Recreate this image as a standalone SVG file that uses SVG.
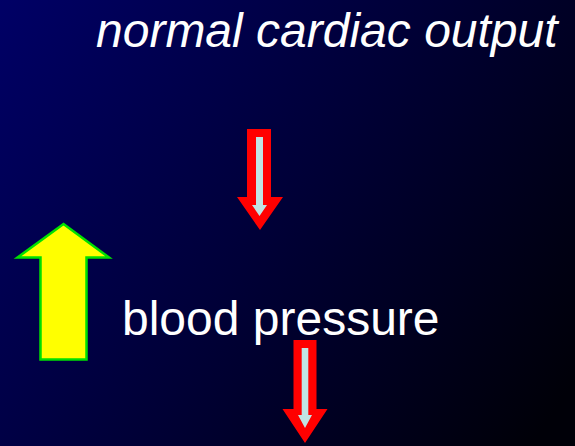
<svg xmlns="http://www.w3.org/2000/svg" width="575" height="446" viewBox="0 0 575 446">
  <defs>
    <linearGradient id="bg" gradientUnits="userSpaceOnUse" x1="0" y1="0" x2="575" y2="380">
      <stop offset="0" stop-color="#000066"/>
      <stop offset="0.5" stop-color="#000038"/>
      <stop offset="1" stop-color="#000008"/>
    </linearGradient>
    <style>
      .label { fill: #ffffff; font-family: "Liberation Sans", Arial, sans-serif; font-size: 48px; }
      .italic { font-style: italic; }
      .red { fill: #ff0000; }
      .core { fill: #c0e4e4; }
      .up { fill: #ffff00; stroke: #00e000; stroke-width: 2.5; stroke-linejoin: miter; }
    </style>
  </defs>
  <rect x="0" y="0" width="575" height="446" fill="url(#bg)"/>
  <g id="title">
    <text class="label italic" x="96" y="47">normal cardiac output</text>
  </g>
  <g id="blood-pressure">
    <text class="label" x="122" y="335">blood pressure</text>
  </g>
  <g id="up-arrow">
    <polygon class="up" points="63.5,224 109,257.5 86.5,257.5 86.5,359.5 40.5,359.5 40.5,257.5 17.5,257.5"/>
  </g>
  <g id="down-arrow-1">
    <polygon class="red" points="247,129 271,129 271,197 283,197 260,230 237,197 247,197"/>
    <polygon class="core" points="256,137 263,137 263,205 267,205 259.5,216 252,205 256,205"/>
  </g>
  <g id="down-arrow-2">
    <polygon class="red" points="293.5,340 316.5,340 316.5,409 327.5,409 305,443 282.5,409 293.5,409"/>
    <polygon class="core" points="301.7,348 308.3,348 308.3,415 312,415 305,428 298,415 301.7,415"/>
  </g>
  <g id="connectors"></g>
</svg>
